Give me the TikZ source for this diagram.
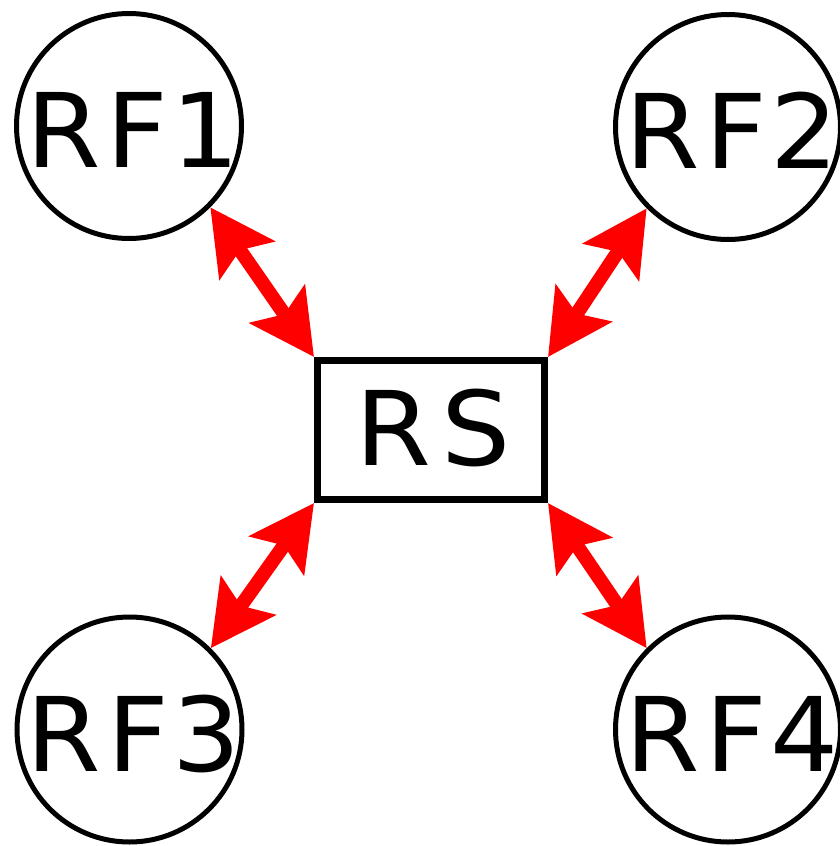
\documentclass[tikz,border=0pt]{standalone}
\usepackage{fontspec}
\setmainfont{DejaVu Sans}
\usetikzlibrary{arrows.meta}
\newcommand{\rflabel}[1]{\raisebox{-41.5pt}[0pt][0pt]{\makebox[0pt]{\hspace*{8pt}\scalebox{1.04}[1]{R\kern6pt F\kern3pt{}#1}}}}
\begin{document}
\begin{tikzpicture}[x=1pt,y=-1pt,
  rfnode/.style={circle,draw=black,line width=5pt,minimum size=225pt,inner sep=0pt,font=\fontsize{103}{110}\selectfont},
  rsnode/.style={rectangle,draw=black,line width=7pt,minimum width=227pt,minimum height=139pt,inner sep=0pt,font=\fontsize{103}{110}\selectfont},
  link/.style={red,line width=14pt,{Stealth[length=64pt,width=66pt,inset=12pt]}-{Stealth[length=64pt,width=66pt,inset=12pt]}}]
\useasboundingbox (0,0) rectangle (840,846);
\node[rfnode] (rf1) at (129,126) {\rflabel{1}};
\node[rfnode] (rf2) at (728,127) {\rflabel{2}};
\node[rfnode] (rf3) at (129.5,729.5) {\rflabel{3}};
\node[rfnode] (rf4) at (728,729.5) {\rflabel{4}};
\node[rsnode] (rs) at (431,430) {\raisebox{-35.5pt}[0pt][0pt]{\makebox[0pt]{\hspace*{4pt}\scalebox{1.06}[1]{R\kern9pt S}}}};
\draw[link] (rf1.south east) -- (rs.north west);
\draw[link] (rf2.south west) -- (rs.north east);
\draw[link] (rf3.north east) -- (rs.south west);
\draw[link] (rf4.north west) -- (rs.south east);
\end{tikzpicture}
\end{document}
